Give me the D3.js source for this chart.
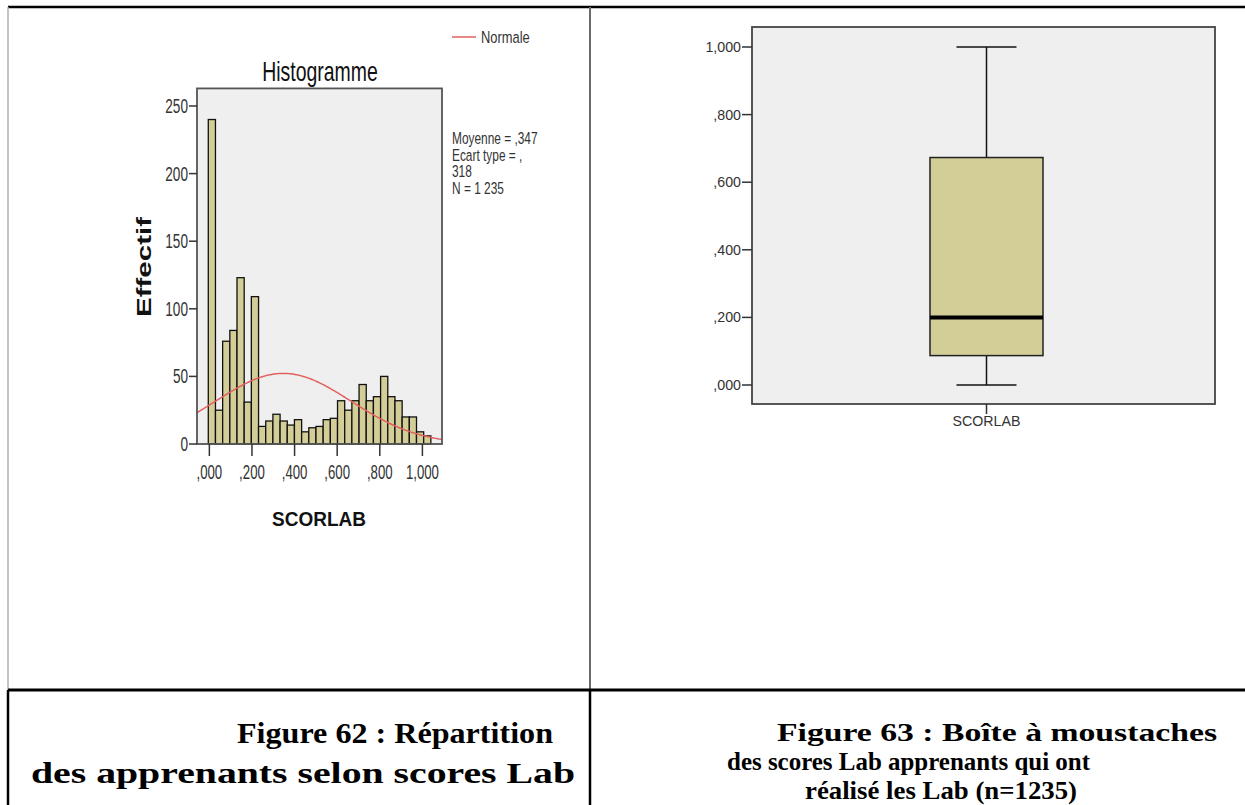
<!DOCTYPE html>
<html>
<head>
<meta charset="utf-8">
<script src="https://cdn.jsdelivr.net/npm/d3@7"></script>
<style>
  html, body { margin: 0; padding: 0; background: #fff; }
  svg { display: block; }
</style>
</head>
<body>
<svg id="page" width="1245" height="805"></svg>
<script>
// ---- Histogram of SCORLAB (counts per bin, left to right) ----
const binCounts = [240, 25, 76, 84, 123, 31, 109, 13, 17, 22, 17, 14, 18, 9, 12, 13,
                   18, 19, 32, 25, 32, 44, 32, 35, 50, 35, 32, 20, 20, 9, 6];
const binStart = -0.005;
const binWidth = 0.0337;
const histYTicks = [0, 50, 100, 150, 200, 250];
const histXTicks = [0, 0.2, 0.4, 0.6, 0.8, 1.0];
const histXTickLabels = [",000", ",200", ",400", ",600", ",800", "1,000"];
const stats = { mean: 0.347, sd: 0.318, n: 1235 };
const statLines = ["Moyenne = ,347", "Ecart type = ,", "318", "N = 1 235"];

// ---- Box plot of SCORLAB ----
const boxCategory = "SCORLAB";
const boxStats = { min: 0.0, q1: 0.087, median: 0.2, q3: 0.673, max: 1.0 };
const boxYTicks = [0, 0.2, 0.4, 0.6, 0.8, 1.0];
const boxYTickLabels = [",000", ",200", ",400", ",600", ",800", "1,000"];

// ---- Captions ----
const captionLeft = ["Figure 62 : Répartition", "des apprenants selon scores Lab"];
const captionRight = ["Figure 63 : Boîte à moustaches", "des scores Lab apprenants qui ont", "réalisé les Lab (n=1235)"];

const svg = d3.select("#page");
const SANS = "'Liberation Sans', Arial, sans-serif";
const SERIF = "'Liberation Serif', 'Times New Roman', serif";
const FILL = "#d3ce97";
const PLOT_BG = "#efefef";
const CURVE = "#e2605f";

// helper: horizontally condensed text
function ctext(g, x, y, str, opts) {
  const o = Object.assign({ size: 16, sx: 1, anchor: "start", weight: "normal", fill: "#222" }, opts || {});
  return g.append("text")
    .attr("transform", `translate(${x},${y}) scale(${o.sx},1)`)
    .attr("font-family", SANS)
    .attr("font-size", o.size)
    .attr("font-weight", o.weight)
    .attr("text-anchor", o.anchor)
    .attr("fill", o.fill)
    .text(str);
}

// ---------------- Table frame ----------------
const table = svg.append("g");
const rowSplit = 690;
table.append("line").attr("x1", 8).attr("x2", 1245).attr("y1", 7).attr("y2", 7)
  .attr("stroke", "#000").attr("stroke-width", 2.5);
table.append("line").attr("x1", 8).attr("x2", 8).attr("y1", 7).attr("y2", rowSplit)
  .attr("stroke", "#b0b0b0").attr("stroke-width", 1.5);
table.append("line").attr("x1", 8).attr("x2", 8).attr("y1", rowSplit).attr("y2", 805)
  .attr("stroke", "#000").attr("stroke-width", 2.5);
table.append("line").attr("x1", 590).attr("x2", 590).attr("y1", 7).attr("y2", rowSplit)
  .attr("stroke", "#6a6a6a").attr("stroke-width", 2);
table.append("line").attr("x1", 590).attr("x2", 590).attr("y1", rowSplit).attr("y2", 805)
  .attr("stroke", "#000").attr("stroke-width", 2.5);
table.append("line").attr("x1", 8).attr("x2", 1245).attr("y1", rowSplit).attr("y2", rowSplit)
  .attr("stroke", "#000").attr("stroke-width", 3);

// ---------------- Histogram ----------------
const hist = svg.append("g");
const hx = d3.scaleLinear().domain([-0.058, 1.092]).range([197, 442]);
const hy = d3.scaleLinear().domain([0, 250]).range([444, 106]);
const hFrame = { x0: hx.range()[0], x1: hx.range()[1], y0: hy(263), y1: hy(0) };

hist.append("rect")
  .attr("x", hFrame.x0).attr("y", hFrame.y0)
  .attr("width", hFrame.x1 - hFrame.x0).attr("height", hFrame.y1 - hFrame.y0)
  .attr("fill", PLOT_BG);

const bins = binCounts.map((c, i) => ({ x0: binStart + i * binWidth, x1: binStart + (i + 1) * binWidth, c }));
hist.append("g").selectAll("rect").data(bins).join("rect")
  .attr("x", d => hx(d.x0)).attr("width", d => hx(d.x1) - hx(d.x0))
  .attr("y", d => hy(d.c)).attr("height", d => hy(0) - hy(d.c))
  .attr("fill", FILL).attr("stroke", "#111").attr("stroke-width", 1.3);

// fitted normal curve scaled to counts
const normal = x => stats.n * binWidth / (stats.sd * Math.sqrt(2 * Math.PI)) *
  Math.exp(-0.5 * Math.pow((x - stats.mean) / stats.sd, 2));
const curveX = d3.range(hx.domain()[0], hx.domain()[1] + 0.001, 0.005);
hist.append("path")
  .datum(curveX)
  .attr("d", d3.line().x(d => hx(d)).y(d => hy(normal(d))))
  .attr("fill", "none").attr("stroke", CURVE).attr("stroke-width", 1.5);

hist.append("rect")
  .attr("x", hFrame.x0).attr("y", hFrame.y0)
  .attr("width", hFrame.x1 - hFrame.x0).attr("height", hFrame.y1 - hFrame.y0)
  .attr("fill", "none").attr("stroke", "#555").attr("stroke-width", 1.8);

// y axis
const hyAxis = hist.append("g");
histYTicks.forEach(t => {
  hyAxis.append("line").attr("x1", hFrame.x0 - 8).attr("x2", hFrame.x0)
    .attr("y1", hy(t)).attr("y2", hy(t)).attr("stroke", "#333").attr("stroke-width", 1.5);
  ctext(hyAxis, hFrame.x0 - 9, hy(t) + 7, String(t), { size: 20, sx: 0.68, anchor: "end", fill: "#333" });
});
// x axis
const hxAxis = hist.append("g");
histXTicks.forEach((t, i) => {
  hxAxis.append("line").attr("x1", hx(t)).attr("x2", hx(t))
    .attr("y1", hFrame.y1).attr("y2", hFrame.y1 + 12).attr("stroke", "#333").attr("stroke-width", 1.5);
  ctext(hxAxis, hx(t), hFrame.y1 + 35, histXTickLabels[i], { size: 20, sx: 0.66, anchor: "middle", fill: "#333" });
});

// titles
ctext(hist, 320, 81, "Histogramme", { size: 27, sx: 0.72, anchor: "middle", fill: "#111" });
ctext(hist, 319, 526, "SCORLAB", { size: 20, sx: 0.95, anchor: "middle", weight: "bold", fill: "#111" });
hist.append("text")
  .attr("transform", "translate(151,267) rotate(-90)")
  .attr("font-family", SANS).attr("font-size", 21).attr("font-weight", "bold")
  .attr("text-anchor", "middle").attr("fill", "#111")
  .attr("textLength", 100).attr("lengthAdjust", "spacingAndGlyphs")
  .text("Effectif");

// legend
hist.append("line").attr("x1", 452).attr("x2", 476).attr("y1", 37).attr("y2", 37)
  .attr("stroke", CURVE).attr("stroke-width", 1.5);
ctext(hist, 481, 43, "Normale", { size: 17, sx: 0.76, fill: "#333" });

// statistics block
statLines.forEach((s, i) => {
  ctext(hist, 452, 144 + i * 16.5, s, { size: 17, sx: 0.7, fill: "#333" });
});

// ---------------- Box plot ----------------
const box = svg.append("g");
const by = d3.scaleLinear().domain([0, 1]).range([385, 47]);
const bx = d3.scaleBand().domain([boxCategory]).range([752, 1215]);
const bFrame = { x0: 752, x1: 1215, y0: 27, y1: 404 };
const cx = bx(boxCategory) + bx.bandwidth() / 2 + 3;
const boxW = 113, capW = 60;

box.append("rect")
  .attr("x", bFrame.x0).attr("y", bFrame.y0)
  .attr("width", bFrame.x1 - bFrame.x0).attr("height", bFrame.y1 - bFrame.y0)
  .attr("fill", PLOT_BG).attr("stroke", "#444").attr("stroke-width", 1.8);

// whiskers
box.append("line").attr("x1", cx).attr("x2", cx).attr("y1", by(boxStats.max)).attr("y2", by(boxStats.q3))
  .attr("stroke", "#111").attr("stroke-width", 1.5);
box.append("line").attr("x1", cx).attr("x2", cx).attr("y1", by(boxStats.q1)).attr("y2", by(boxStats.min))
  .attr("stroke", "#111").attr("stroke-width", 1.5);
[boxStats.max, boxStats.min].forEach(v => {
  box.append("line").attr("x1", cx - capW / 2).attr("x2", cx + capW / 2).attr("y1", by(v)).attr("y2", by(v))
    .attr("stroke", "#111").attr("stroke-width", 1.5);
});
box.append("rect")
  .attr("x", cx - boxW / 2).attr("width", boxW)
  .attr("y", by(boxStats.q3)).attr("height", by(boxStats.q1) - by(boxStats.q3))
  .attr("fill", FILL).attr("stroke", "#222").attr("stroke-width", 1.5);
box.append("line").attr("x1", cx - boxW / 2).attr("x2", cx + boxW / 2)
  .attr("y1", by(boxStats.median)).attr("y2", by(boxStats.median))
  .attr("stroke", "#000").attr("stroke-width", 4);

// y axis
boxYTicks.forEach((t, i) => {
  box.append("line").attr("x1", bFrame.x0 - 10).attr("x2", bFrame.x0)
    .attr("y1", by(t)).attr("y2", by(t)).attr("stroke", "#333").attr("stroke-width", 1.5);
  ctext(box, bFrame.x0 - 11, by(t) + 5, boxYTickLabels[i], { size: 15, sx: 0.95, anchor: "end", fill: "#333" });
});
// x axis
box.append("line").attr("x1", cx).attr("x2", cx).attr("y1", bFrame.y1).attr("y2", bFrame.y1 + 10)
  .attr("stroke", "#333").attr("stroke-width", 1.5);
ctext(box, cx, bFrame.y1 + 22, boxCategory, { size: 15, sx: 0.95, anchor: "middle", fill: "#333" });

// ---------------- Captions ----------------
const cap = svg.append("g").attr("font-family", SERIF).attr("font-weight", "bold").attr("fill", "#000");
const leftStarts = [237, 31];
const leftEnds = [553, 575];
captionLeft.forEach((s, i) => {
  cap.append("text").attr("x", leftStarts[i]).attr("y", 743 + i * 40).attr("font-size", 30)
    .attr("textLength", leftEnds[i] - leftStarts[i]).attr("lengthAdjust", "spacingAndGlyphs").text(s);
});
const rightStarts = [777, 727, 805];
const rightEnds = [1217, 1090, 1077];
captionRight.forEach((s, i) => {
  cap.append("text").attr("x", rightStarts[i]).attr("y", 741 + i * 29).attr("font-size", 26)
    .attr("textLength", rightEnds[i] - rightStarts[i]).attr("lengthAdjust", "spacingAndGlyphs").text(s);
});
</script>
</body>
</html>
